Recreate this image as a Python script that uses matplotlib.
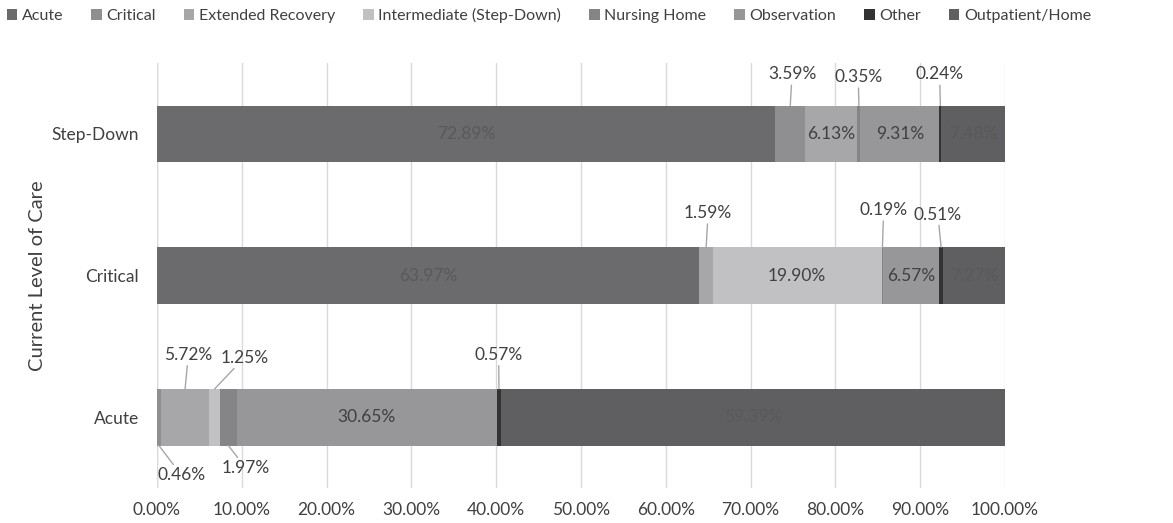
import matplotlib.pyplot as plt
import numpy as np

plt.rcParams['font.family'] = ['Lato', 'DejaVu Sans']

# data
levels = ["Acute", "Critical", "Step-Down"]
series = ["Acute", "Critical", "Extended Recovery", "Intermediate (Step-Down)",
          "Nursing Home", "Observation", "Other", "Outpatient/Home"]
acute_vals = [0.00, 0.46, 5.72, 1.25, 1.97, 30.65, 0.57, 59.39]
critical_vals = [63.97, 0.00, 1.59, 19.90, 0.19, 6.57, 0.51, 7.27]
stepdown_vals = [72.89, 3.59, 6.13, 0.00, 0.35, 9.31, 0.24, 7.48]

# styles
colors = ["#6b6b6d", "#8f8f91", "#a7a7a9", "#c1c1c3",
          "#858587", "#97979a", "#333333", "#5f5f61"]
# callout labels: (row, series index) -> (x, y) position of text
callouts = {
    (2, 1): (74.9, 2.42), (2, 4): (82.7, 2.40), (2, 6): (92.3, 2.42),
    (1, 2): (65.0, 1.44), (1, 4): (85.7, 1.46), (1, 6): (92.1, 1.43),
    (0, 2): (3.7, 0.44), (0, 3): (10.3, 0.42), (0, 6): (40.3, 0.44),
    (0, 1): (2.9, -0.41), (0, 4): (10.5, -0.36),
}

rows = [acute_vals, critical_vals, stepdown_vals]
data = np.array(rows)

fig = plt.figure(figsize=(11.73, 5.23), dpi=100)
ax = fig.add_axes([0.1338, 0.0669, 0.7229, 0.8126])

h = 0.4
y = np.arange(len(levels))
left = np.zeros(len(levels))
for j, name in enumerate(series):
    ax.barh(y, data[:, j], left=left, height=h, color=colors[j],
            label=name, zorder=3, edgecolor='none')
    for i in range(len(levels)):
        v = data[i, j]
        if v <= 0:
            continue
        cx = left[i] + v / 2
        txt = "%.2f%%" % v
        if (i, j) in callouts:
            # small segment: label outside with a leader line
            tx, ty = callouts[(i, j)]
            ey = y[i] + h / 2 if ty > y[i] else y[i] - h / 2
            ax.annotate(txt, xy=(cx, ey), xytext=(tx, ty), ha='center', va='center',
                        fontsize=12.5, color='#404040',
                        arrowprops=dict(arrowstyle='-', color='#a6a6a6', lw=1,
                                        shrinkA=0, shrinkB=0), zorder=5)
        else:
            tc = '#595959' if j in (0, 7) else '#404040'
            ax.text(cx, y[i], txt, ha='center', va='center', fontsize=12.5,
                    color=tc, zorder=4)
    left += data[:, j]

ax.set_xlim(0, 100)
ax.set_ylim(-0.5, 2.5)
ax.set_yticks(y)
ax.set_yticklabels(levels)
ax.set_xticks(np.arange(0, 101, 10))
ax.set_xticklabels(["%.2f%%" % t for t in np.arange(0, 101, 10)])
ax.tick_params(axis='both', length=0, labelsize=12.5, colors='#404040')
ax.tick_params(axis='x', pad=10)
ax.tick_params(axis='y', pad=13)
ax.grid(axis='x', color='#d9d9d9', lw=1, zorder=0)
for s in ax.spines.values():
    s.set_visible(False)
ax.axvline(0, color='#d9d9d9', lw=1, zorder=1)
ax.set_ylabel("Current Level of Care", fontsize=14.5, color='#404040', labelpad=4)

fig.legend(loc='upper center', bbox_to_anchor=(0.468, 1.012), ncol=8, frameon=False,
           fontsize=11.5, handlelength=0.65, handleheight=0.65, handletextpad=0.3,
           columnspacing=1.75, labelcolor='#404040')

fig.savefig("out.png", dpi=100)
